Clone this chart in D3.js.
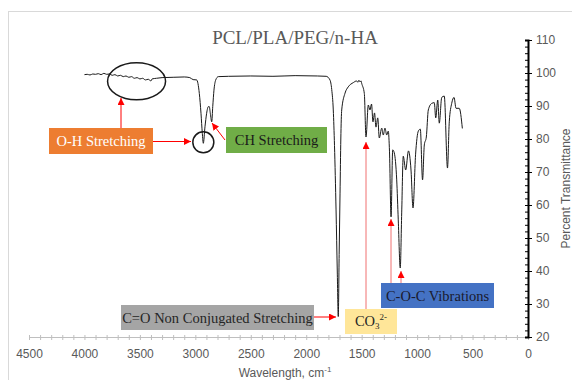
<!DOCTYPE html>
<html>
<head>
<meta charset="utf-8">
<script src="https://cdn.jsdelivr.net/npm/d3@7"></script>
<style>
  body { margin: 0; background: #fff; }
  svg { display: block; }
</style>
</head>
<body>
<div id="chart"></div>
<script>
// spectrum (wavenumber cm-1, % transmittance)
const wavenumber = [
    4000, 3975, 3950, 3925, 3900, 3875, 3850, 3825, 3800, 3775, 3750, 3725, 3700, 3675, 3650, 3625,
    3600, 3575, 3550, 3525, 3500, 3475, 3450, 3425, 3400, 3390, 3350, 3300, 3200, 3100, 3050, 3020,
    2988, 2964, 2949, 2937, 2928, 2913, 2898, 2883, 2874, 2865, 2852, 2843, 2832, 2816, 2793, 2700,
    2500, 2300, 2100, 1900, 1820, 1786, 1770, 1756, 1745, 1731, 1720, 1711, 1703, 1695, 1688, 1680,
    1650, 1621, 1575, 1545, 1535, 1525, 1515, 1505, 1500, 1476, 1461, 1440, 1425, 1411, 1398, 1384,
    1371, 1355, 1341, 1319, 1305, 1290, 1274, 1260, 1249, 1235, 1220, 1206, 1184, 1170, 1152, 1139,
    1125, 1103, 1078, 1055, 1037, 1014, 989, 971, 951, 935, 917, 899, 868, 845, 832, 814,
    800, 778, 755, 726, 710, 688, 667, 649, 620, 592
]
const transmittance = [
    99.5, 99.6, 99.4, 99.7, 99.6, 99.8, 99.5, 99.9, 99.6, 99.7, 99.3, 99.5, 99.1, 99.3, 98.9, 99.1,
    98.7, 98.9, 98.4, 98.6, 98.2, 98.4, 97.9, 98.1, 97.6, 98.2, 98.4, 98.6, 98.7, 98.8, 98.6, 98.0,
    97.9, 93.8, 87.8, 81.7, 78.7, 83.7, 87.8, 89.8, 89.8, 87.8, 85.2, 89.8, 94.8, 97.9, 98.9, 99.0,
    99.1, 99.0, 99.2, 99.1, 99.0, 97.9, 95.0, 88.8, 78.0, 58.5, 40.0, 26.2, 45.0, 63.6, 80.0, 88.8,
    93.9, 95.8, 97.1, 97.6, 97.2, 97.8, 97.3, 97.6, 96.9, 93.8, 80.6, 90.3, 88.8, 90.6, 85.2, 87.9,
    83.6, 86.4, 80.3, 83.3, 81.2, 83.3, 81.2, 82.4, 76.1, 56.4, 76.7, 75.8, 67.6, 55.5, 40.9, 57.6,
    74.8, 70.6, 76.4, 70.6, 59.1, 75.2, 82.4, 83.0, 67.6, 78.2, 80.6, 88.8, 90.8, 91.0, 86.4, 91.8,
    84.8, 92.6, 93.0, 71.2, 85.2, 90.8, 92.6, 89.3, 89.3, 83.2
]

const xTickValues = [4500, 4000, 3500, 3000, 2500, 2000, 1500, 1000, 500, 0]
const yTickValues = [20, 30, 40, 50, 60, 70, 80, 90, 100, 110]

const chartTitle = "PCL/PLA/PEG/n-HA"
const xTitle = "Wavelength, cm"
const yTitle = "Percent Transmittance"

const totalW = 572, totalH = 380
const sansFont = "'Liberation Sans', Arial, sans-serif"
const serifFont = "'Liberation Serif', 'Times New Roman', serif"

const svg = d3.select("#chart")
    .append("svg")
    .attr("width", totalW)
    .attr("height", totalH)

// chart area border
svg.append("rect")
    .attr("x", 8.5).attr("y", 11.5)
    .attr("width", 600).attr("height", 400)
    .attr("fill", "none")
    .attr("stroke", "#d9d9d9")

let x = d3.scaleLinear()
    .domain([4500, 0])
    .range([29, 528])

let y = d3.scaleLinear()
    .domain([20, 110])
    .range([337, 40])

// title
svg.append("text")
    .attr("x", 295).attr("y", 44)
    .attr("text-anchor", "middle")
    .attr("font-family", serifFont)
    .attr("font-size", "19px")
    .attr("fill", "#595959")
    .text(chartTitle)

// x axis (gray, minor ticks every 100)
let xAxis = svg.append("g")
    .attr("transform", "translate(0,337)")
    .call(d3.axisBottom(x)
        .tickValues(d3.range(0, 4501, 100))
        .tickSize(3)
        .tickFormat(""))
xAxis.select(".domain").attr("stroke", "#bfbfbf")
xAxis.selectAll(".tick line").attr("stroke", "#bfbfbf").attr("y1", -2)

let xLabels = svg.append("g")
    .attr("transform", "translate(0,337)")
    .call(d3.axisBottom(x).tickValues(xTickValues).tickSize(0).tickPadding(12)
        .tickFormat(d3.format("d")))
xLabels.select(".domain").remove()
xLabels.selectAll("text")
    .attr("font-family", sansFont)
    .attr("font-size", "12px")
    .attr("fill", "#595959")

let xt = svg.append("text")
    .attr("x", 285).attr("y", 377)
    .attr("text-anchor", "middle")
    .attr("font-family", sansFont)
    .attr("font-size", "12px")
    .attr("fill", "#595959")
    .text(xTitle)
xt.append("tspan").attr("dy", -5).attr("font-size", "8px").text("-1")

// y axis on the right (black, minor ticks every 2)
let yMinor = svg.append("g")
    .attr("transform", "translate(528,0)")
    .call(d3.axisLeft(y).tickValues(d3.range(20, 111, 2)).tickSize(3).tickFormat(""))
yMinor.select(".domain").attr("stroke", "#000").attr("stroke-width", 2)
yMinor.selectAll(".tick line").attr("stroke", "#000")

let yAxis = svg.append("g")
    .attr("transform", "translate(528,0)")
    .call(d3.axisRight(y).tickValues(yTickValues).tickSize(4).tickPadding(4))
yAxis.select(".domain").remove()
yAxis.selectAll(".tick line").attr("stroke", "#000")
yAxis.selectAll("text")
    .attr("font-family", sansFont)
    .attr("font-size", "12px")
    .attr("fill", "#595959")

svg.append("text")
    .attr("transform", "translate(570," + y(65) + ") rotate(-90)")
    .attr("text-anchor", "middle")
    .attr("font-family", sansFont)
    .attr("font-size", "12px")
    .attr("fill", "#595959")
    .text(yTitle)

// spectrum
const data = wavenumber.map(function (w, i) { return { w: w, t: transmittance[i] } })
svg.append("path")
    .datum(data)
    .attr("fill", "none")
    .attr("stroke", "#1a1a1a")
    .attr("stroke-width", 1)
    .attr("d", d3.line()
        .x(function (d) { return x(d.w) })
        .y(function (d) { return y(d.t) })
        .curve(d3.curveMonotoneX))

// arrow head
svg.append("defs").append("marker")
    .attr("id", "head")
    .attr("viewBox", "0 0 10 10")
    .attr("refX", 10).attr("refY", 5)
    .attr("markerWidth", 7).attr("markerHeight", 7)
    .attr("markerUnits", "userSpaceOnUse")
    .attr("orient", "auto")
    .append("path")
    .attr("d", "M0,0 L10,5 L0,10 z")
    .attr("fill", "#ff0000")

// circles around the O-H and C-H bands
svg.append("ellipse")
    .attr("cx", x(3530)).attr("cy", y(97.5))
    .attr("rx", 29).attr("ry", 18.5)
    .attr("fill", "none").attr("stroke", "#1a1a1a").attr("stroke-width", 1.5)
svg.append("circle")
    .attr("cx", x(2928)).attr("cy", y(79))
    .attr("r", 10.5)
    .attr("fill", "none").attr("stroke", "#1a1a1a").attr("stroke-width", 1.5)

// annotation boxes
const boxes = [
    { x: 49, y: 128, w: 104, h: 26, fill: "#ed7d31", color: "#ffffff", label: "O-H Stretching" },
    { x: 226, y: 127, w: 101, h: 26, fill: "#70ad47", color: "#1a1a1a", label: "CH Stretching" },
    { x: 121, y: 305, w: 193, h: 25, fill: "#a5a5a5", color: "#262626", label: "C=O Non Conjugated Stretching" },
    { x: 381, y: 283, w: 113, h: 25, fill: "#4472c4", color: "#1a1a2e", label: "C-O-C Vibrations" },
    { x: 345, y: 309, w: 52, h: 25, fill: "#ffe699", color: "#262626", label: "" }
]
boxes.forEach(function (b) {
    svg.append("rect")
        .attr("x", b.x).attr("y", b.y)
        .attr("width", b.w).attr("height", b.h)
        .attr("fill", b.fill)
    svg.append("text")
        .attr("x", b.x + b.w / 2).attr("y", b.y + b.h / 2 + 5)
        .attr("text-anchor", "middle")
        .attr("font-family", serifFont)
        .attr("font-size", "14.5px")
        .attr("fill", b.color)
        .text(b.label)
})
let co3 = svg.append("text")
    .attr("x", 371).attr("y", 326)
    .attr("text-anchor", "middle")
    .attr("font-family", serifFont)
    .attr("font-size", "14.5px")
    .attr("fill", "#262626")
    .text("CO")
co3.append("tspan").attr("dy", 3).attr("font-size", "9px").text("3")
co3.append("tspan").attr("dy", -9).attr("font-size", "9px").text("2-")

// arrows
const arrows = [
    { x1: 121, y1: 128, x2: 121, y2: 98, c: "#ff0000" },
    { x1: 153, y1: 141.5, x2: 191, y2: 141.5, c: "#ff0000" },
    { x1: 225, y1: 140, x2: 212, y2: 123, c: "#ff0000" },
    { x1: 314, y1: 317, x2: 336, y2: 317, c: "#ff0000" },
    { x1: 366, y1: 309, x2: 366, y2: 142, c: "#f07070" },
    { x1: 391, y1: 283, x2: 391, y2: 219, c: "#f07070" },
    { x1: 401, y1: 283, x2: 401, y2: 271, c: "#f07070" }
]
arrows.forEach(function (a) {
    svg.append("line")
        .attr("x1", a.x1).attr("y1", a.y1)
        .attr("x2", a.x2).attr("y2", a.y2)
        .attr("stroke", a.c)
        .attr("stroke-width", 1)
        .attr("marker-end", "url(#head)")
})
</script>
</body>
</html>
